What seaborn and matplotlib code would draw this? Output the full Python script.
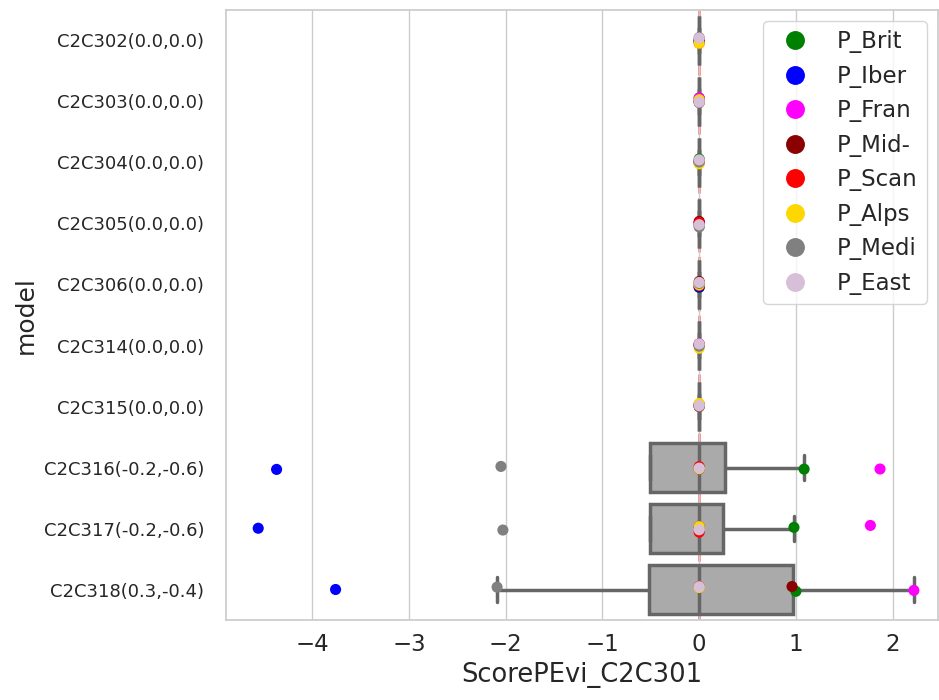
import numpy as np
import pandas as pd
import matplotlib
matplotlib.use("Agg")
import matplotlib.pyplot as plt
import seaborn as sns

models = ['C2C302(0.0,0.0)', 'C2C303(0.0,0.0)', 'C2C304(0.0,0.0)', 'C2C305(0.0,0.0)',
          'C2C306(0.0,0.0)', 'C2C314(0.0,0.0)', 'C2C315(0.0,0.0)', 'C2C316(-0.2,-0.6)',
          'C2C317(-0.2,-0.6)', 'C2C318(0.3,-0.4)']
regions = ['P_Brit', 'P_Iber', 'P_Fran', 'P_Mid-', 'P_Scan', 'P_Alps', 'P_Medi', 'P_East']
colors = ['green', 'blue', 'magenta', 'darkred', 'red', 'gold', 'gray', 'thistle']

# scores per region, one value per model (same order as models)
p_brit = [0, 0, 0, 0, 0, 0, 0, 1.085, 0.98, 1.0]
p_iber = [0, 0, 0, 0, 0, 0, 0, -4.37, -4.56, -3.76]
p_fran = [0, 0, 0, 0, 0, 0, 0, 1.87, 1.77, 2.22]
p_mid = [0, 0, 0, 0, 0, 0, 0, 0, 0, 0.96]
p_scan = [0, 0, 0, 0, 0, 0, 0, 0, 0, 0]
p_alps = [0, 0, 0, 0, 0, 0, 0, 0, 0, 0]
p_medi = [0, 0, 0, 0, 0, 0, 0, -2.05, -2.03, -2.09]
p_east = [0, 0, 0, 0, 0, 0, 0, 0, 0, 0]

scores = [p_brit, p_iber, p_fran, p_mid, p_scan, p_alps, p_medi, p_east]

rows = []
for reg, vals in zip(regions, scores):
    for m, v in zip(models, vals):
        rows.append({'model': m, 'region': reg, 'ScorePEvi_C2C301': v})
df = pd.DataFrame(rows)

sns.set_theme(style="whitegrid", font_scale=1.5)
np.random.seed(3)

fig, ax = plt.subplots(figsize=(9.39, 7), dpi=100)
sns.boxplot(data=df, x='ScorePEvi_C2C301', y='model', order=models, color='#aaaaaa',
            saturation=1, linecolor='#666666', linewidth=2.5, showfliers=False, ax=ax)
sns.stripplot(data=df, x='ScorePEvi_C2C301', y='model', order=models, hue='region',
              hue_order=regions, palette=dict(zip(regions, colors)), size=8,
              jitter=0.06, ax=ax)
ax.axvline(0, color='red', linestyle='--', alpha=0.5, linewidth=2, zorder=0.5)

ax.set_xlim(-4.89, 2.47)
ax.tick_params(axis='y', labelsize=13, pad=10)
ax.xaxis.label.set_size(18.5)
ax.legend(loc='upper right', fontsize=16.5, markerscale=1.7)
plt.subplots_adjust(left=0.241, right=0.999, top=0.986, bottom=0.114)
plt.savefig('out.png')
